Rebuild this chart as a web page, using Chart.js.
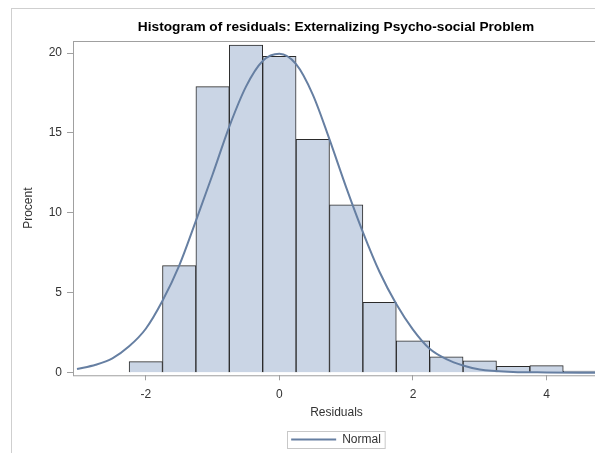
<!DOCTYPE html>
<html>
<head>
<meta charset="utf-8">
<script src="https://cdn.jsdelivr.net/npm/chart.js@4"></script>
<style>
  html, body { margin: 0; padding: 0; background: #fff; overflow: hidden; }
  #wrap { width: 595px; height: 453px; overflow: hidden; position: relative; }
  canvas { display: block; }
</style>
</head>
<body>
<div id="wrap"><canvas id="histChart" width="661" height="453"></canvas></div>
<script>
// histogram bins (midpoints, width 0.5) and percent per bin
const binMids = [-2, -1.5, -1, -0.5, 0, 0.5, 1, 1.5, 2, 2.5, 3, 3.5, 4, 4.5];
const binPercent = [0.7, 6.7, 17.9, 20.5, 19.8, 14.6, 10.5, 4.4, 2.0, 1.0, 0.75, 0.4, 0.45, 0.1];

// normal curve
const normalX = [-3.03, -2.75, -2.5, -2.25, -2, -1.75, -1.5, -1.25, -1, -0.75, -0.5, -0.25, 0, 0.25, 0.5, 0.75, 1, 1.25, 1.5, 1.75, 2, 2.25, 2.5, 2.75, 3, 3.5, 4, 4.75];
const normalY = [0.23, 0.5, 0.9, 1.65, 2.75, 4.5, 6.7, 9.5, 12.4, 15.4, 17.9, 19.5, 19.95, 19.3, 17.4, 14.6, 11.6, 8.8, 6.3, 4.3, 2.7, 1.5, 0.85, 0.45, 0.2, 0.05, 0.02, 0.0];

const xTicks = [-2, 0, 2, 4];
const yTicks = [0, 5, 10, 15, 20];

const font = 'Liberation Sans';

const frames = {
  id: 'frames',
  beforeDraw(chart) {
    const ctx = chart.ctx;
    ctx.save();
    ctx.strokeStyle = '#cfcfcf';
    ctx.lineWidth = 1;
    ctx.strokeRect(11.5, 8.5, 660, 460);
    ctx.restore();
  },
  afterDraw(chart) {
    const ctx = chart.ctx;
    const a = chart.chartArea;
    ctx.save();
    ctx.strokeStyle = '#a0a0a0';
    ctx.lineWidth = 1;
    ctx.strokeRect(Math.round(a.left) + 0.5, Math.round(a.top) + 0.5, a.right - a.left, a.bottom - a.top);
    const hb = chart.legend.legendHitBoxes[0];
    if (hb) {
      ctx.strokeStyle = '#c8c8c8';
      ctx.strokeRect(Math.round(hb.left) - 3.5, Math.round(hb.top) - 2.5, hb.width + 8, hb.height + 5);
    }
    ctx.restore();
  }
};

const ctx = document.getElementById('histChart').getContext('2d');
new Chart(ctx, {
  type: 'bar',
  data: {
    datasets: [{
      type: 'line',
      label: 'Normal',
      data: normalX.map((x, i) => ({ x: x, y: normalY[i] })),
      borderColor: '#667fa2',
      backgroundColor: '#667fa2',
      borderWidth: 2,
      pointRadius: 0,
      tension: 0.4,
      cubicInterpolationMode: 'monotone',
      order: 0
    }, {
      label: 'Residuals',
      data: binMids.map((x, i) => ({ x: x, y: binPercent[i] })),
      backgroundColor: '#cad5e5',
      borderColor: '#2a2a2a',
      borderWidth: 1,
      barPercentage: 1,
      categoryPercentage: 1,
      order: 1
    }]
  },
  options: {
    responsive: false,
    animation: false,
    layout: { padding: { left: 11, top: 8, right: 0, bottom: -2.5 } },
    plugins: {
      title: {
        display: true,
        text: 'Histogram of residuals: Externalizing Psycho-social Problem',
        color: '#000',
        font: { family: font, size: 13.7, weight: 'bold' },
        padding: { top: 11, bottom: 5.6 }
      },
      legend: {
        position: 'bottom',
        labels: {
          filter: item => item.text === 'Normal',
          usePointStyle: true,
          pointStyle: 'line',
          pointStyleWidth: 45,
          color: '#333',
          padding: 6,
          font: { family: font, size: 12 }
        }
      },
      tooltip: { enabled: false }
    },
    scales: {
      x: {
        type: 'linear',
        min: -3.09,
        max: 4.8,
        offset: false,
        afterBuildTicks: s => { s.ticks = xTicks.map(v => ({ value: v })); },
        afterFit: s => { s.height = 52.2; },
        grid: { offset: false, drawOnChartArea: false, tickLength: 5, tickColor: '#a0a0a0' },
        border: { display: false },
        ticks: { color: '#333', padding: 7, maxRotation: 0, font: { family: font, size: 12 } },
        title: {
          display: true,
          text: 'Residuals',
          color: '#333',
          padding: { top: 0, bottom: 8 },
          font: { family: font, size: 12 }
        }
      },
      y: {
        min: -0.16,
        max: 20.75,
        afterBuildTicks: s => { s.ticks = yTicks.map(v => ({ value: v })); },
        afterFit: s => { s.width = 62; },
        grid: { drawOnChartArea: false, tickLength: 6, tickColor: '#a0a0a0' },
        border: { display: false },
        ticks: { color: '#333', padding: 5, font: { family: font, size: 12 } },
        title: {
          display: true,
          text: 'Procent',
          color: '#333',
          padding: { top: 10, bottom: 0 },
          font: { family: font, size: 12 }
        }
      },
      yRight: {
        position: 'right',
        display: true,
        grid: { display: false },
        border: { display: false },
        ticks: { display: false },
        afterFit: s => { s.width = 61; }
      }
    }
  },
  plugins: [frames]
});
</script>
</body>
</html>
